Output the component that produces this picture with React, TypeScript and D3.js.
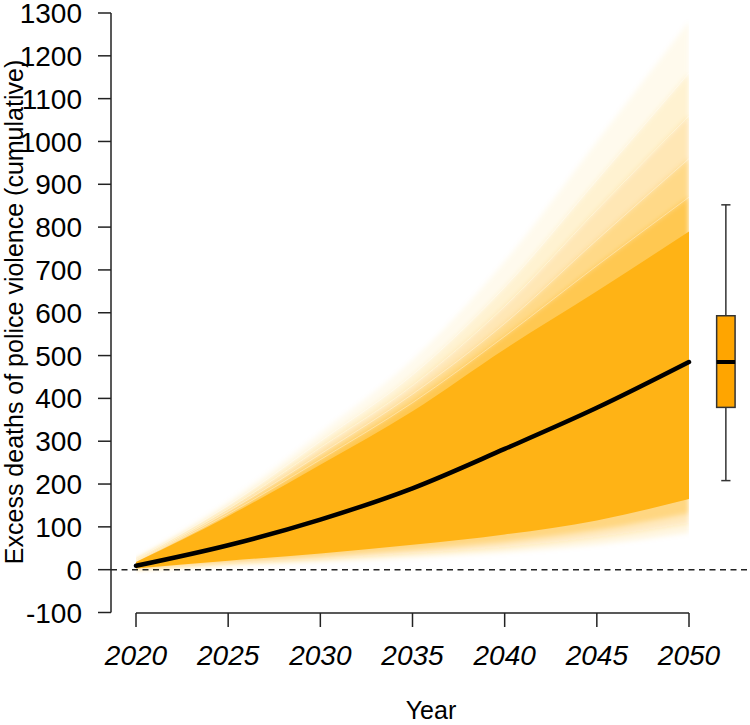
import React from "react";
import * as d3 from "d3";

const years = [2020, 2025, 2030, 2035, 2040, 2045, 2050];
const medianSeries = [9, 57, 117, 190, 282, 378, 485];
// upper quantile envelopes, outermost first
const upperMax = [25, 160, 320, 490, 720, 1000, 1280];
const upper1 = [24, 150, 300, 455, 660, 910, 1160];
const upper2 = [22, 142, 285, 430, 615, 840, 1060];
const upper3 = [20, 136, 270, 410, 575, 770, 960];
const upper4 = [19, 130, 257, 390, 545, 710, 870];
const upperSolid = [18, 125, 245, 370, 515, 650, 790];
// lower quantile envelopes, outermost first
const lowerMin = [0, 10, 18, 28, 40, 58, 86];
const lower1 = [1, 13, 24, 37, 52, 75, 108];
const lower2 = [2, 17, 31, 47, 66, 93, 132];
const lowerSolid = [3, 21, 38, 58, 82, 115, 165];
// boxplot of 2050 values: lower whisker, Q1, median, Q3, upper whisker
const boxValues = [208, 379, 485, 593, 852];
const boxYear = 2052;

const yTicks = [-100, 0, 100, 200, 300, 400, 500, 600, 700, 800, 900, 1000, 1100, 1200, 1300];
const xTicks = [2020, 2025, 2030, 2035, 2040, 2045, 2050];

const FONT = "'Liberation Sans', Arial, sans-serif";
const FAN = "#FFB315";

export default function App() {
  const x = d3.scaleLinear().domain([2020, 2050]).range([136, 689]);
  const y = d3.scaleLinear().domain([-100, 1300]).range([612.5, 13]);

  const band = (lo: number[], hi: number[]) =>
    d3
      .area<number>()
      .x((_, i) => x(years[i]))
      .y0((_, i) => y(lo[i]))
      .y1((_, i) => y(hi[i]))
      .curve(d3.curveMonotoneX)(years as any) || "";

  const line = d3
    .line<number>()
    .x((_, i) => x(years[i]))
    .y((d) => y(d))
    .curve(d3.curveMonotoneX);

  const upperLevels = [upperMax, upper1, upper2, upper3, upper4];
  const upperOp = [0.07, 0.12, 0.18, 0.28, 0.45];
  const lowerLevels = [lowerMin, lower1, lower2];
  const lowerOp = [0.12, 0.2, 0.35];

  const bx = x(boxYear);
  const bw = x(2052.5) - x(2051.5);
  const cw = x(2052.25) - x(2051.75);
  const [wLo, q1, med, q3, wHi] = boxValues;

  return (
    <svg
      width={750}
      height={725}
      style={{ position: "absolute", left: 0, top: 0, background: "#fff" }}
      fontFamily={FONT}
    >
      <defs>
        <filter id="soft" x="-5%" y="-5%" width="110%" height="110%">
          <feGaussianBlur stdDeviation="2.5" />
        </filter>
        <clipPath id="fanclip">
          <rect x={x(2020)} y={0} width={x(2050) - x(2020)} height={612} />
        </clipPath>
      </defs>
      <rect width={750} height={725} fill="#fff" />
      {/* fan */}
      <g clipPath="url(#fanclip)">
        <g filter="url(#soft)">
          {upperLevels.map((u, k) => (
            <path key={"u" + k} d={band(medianSeries, u)} fill={FAN} fillOpacity={upperOp[k]} />
          ))}
          {lowerLevels.map((l, k) => (
            <path key={"l" + k} d={band(l, medianSeries)} fill={FAN} fillOpacity={lowerOp[k]} />
          ))}
        </g>
        {[upper1, upper2, upper3, upper4].map((u, k) => (
          <path key={"s" + k} d={line(u) || ""} fill="none" stroke="#fff" strokeOpacity={0.35} strokeWidth={1} />
        ))}
        <path d={band(lowerSolid, upperSolid)} fill={FAN} />
      </g>
      {/* zero line */}
      <line x1={111} x2={750} y1={y(0)} y2={y(0)} stroke="#222" strokeWidth={1.5} strokeDasharray="6,4.5" />
      {/* median */}
      <path d={line(medianSeries) || ""} fill="none" stroke="#000" strokeWidth={4.5} strokeLinecap="round" />
      {/* boxplot */}
      <g stroke="#333" strokeWidth={1.5}>
        <line x1={bx} x2={bx} y1={y(wHi)} y2={y(q3)} />
        <line x1={bx} x2={bx} y1={y(q1)} y2={y(wLo)} />
        <line x1={bx - cw / 2} x2={bx + cw / 2} y1={y(wHi)} y2={y(wHi)} />
        <line x1={bx - cw / 2} x2={bx + cw / 2} y1={y(wLo)} y2={y(wLo)} />
        <rect x={bx - bw / 2} y={y(q3)} width={bw} height={y(q1) - y(q3)} fill="#FFA500" />
      </g>
      <line x1={bx - bw / 2} x2={bx + bw / 2} y1={y(med)} y2={y(med)} stroke="#000" strokeWidth={4} />
      {/* y axis */}
      <line x1={111} x2={111} y1={y(-100)} y2={y(1300)} stroke="#222" strokeWidth={1.5} />
      {yTicks.map((t) => (
        <g key={t}>
          <line x1={98} x2={111} y1={y(t)} y2={y(t)} stroke="#222" strokeWidth={1.5} />
          <text x={82} y={y(t)} dy="0.36em" textAnchor="end" fontSize={28} fill="#000">
            {t}
          </text>
        </g>
      ))}
      {/* x axis */}
      <line x1={x(2020)} x2={x(2050)} y1={613} y2={613} stroke="#222" strokeWidth={1.5} />
      {xTicks.map((t) => (
        <g key={t}>
          <line x1={x(t)} x2={x(t)} y1={613} y2={627} stroke="#222" strokeWidth={1.5} />
          <text x={x(t)} y={665} textAnchor="middle" fontSize={28} fontStyle="italic" fill="#000">
            {t}
          </text>
        </g>
      ))}
      <text x={431} y={719} textAnchor="middle" fontSize={25} fill="#000">
        Year
      </text>
      <text
        transform={`translate(23,${312}) rotate(-90)`}
        textAnchor="middle"
        fontSize={25}
        fill="#000"
      >
        Excess deaths of police violence (cumulative)
      </text>
    </svg>
  );
}
